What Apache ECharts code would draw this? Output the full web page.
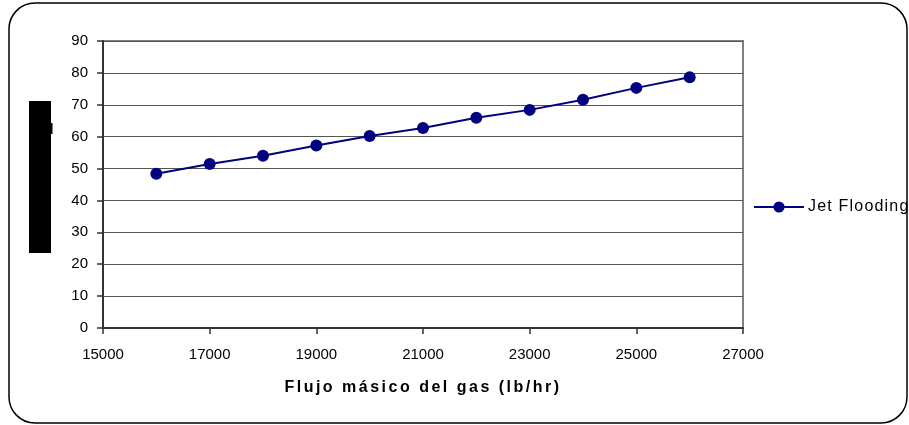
<!DOCTYPE html>
<html>
<head>
<meta charset="utf-8">
<script src="https://cdn.jsdelivr.net/npm/echarts@6/dist/echarts.min.js"></script>
<style>
  html, body { margin: 0; padding: 0; background: #ffffff; }
  #chart { width: 909px; height: 425px; }
</style>
</head>
<body>
<div id="chart"></div>
<script>
// Gas mass flow (lb/hr) against jet flooding (%)
const gasFlow = [16000, 17000, 18000, 19000, 20000, 21000, 22000, 23000, 24000, 25000, 26000];
const jetFlooding = [48.4, 51.4, 54.0, 57.2, 60.2, 62.7, 65.9, 68.4, 71.6, 75.3, 78.6];
const seriesName = 'Jet Flooding';
const xTitle = 'Flujo másico del gas (lb/hr)';

// Wide tracking for the bold axis title and the legend label
(function () {
  const proto = CanvasRenderingContext2D.prototype;
  const origFill = proto.fillText;
  proto.fillText = function (t, x, y, m) {
    const f = this.font || '';
    if ('letterSpacing' in this) {
      this.letterSpacing = f.indexOf('bold') >= 0 ? '2.5px' : (f.indexOf('16px') >= 0 ? '1.2px' : '0px');
    }
    return m === undefined ? origFill.call(this, t, x, y) : origFill.call(this, t, x, y, m);
  };
})();

const font = 'Liberation Sans, Arial, sans-serif';
const chart = echarts.init(document.getElementById('chart'), null, { renderer: 'canvas' });

chart.setOption({
  backgroundColor: '#ffffff',
  animation: false,
  textStyle: { fontFamily: font },
  grid: {
    left: 103, right: 166, top: 41, bottom: 97,
    show: true, borderColor: '#808080', borderWidth: 2, backgroundColor: '#ffffff'
  },
  legend: {
    data: [seriesName],
    left: 753, top: 199, padding: 0,
    itemWidth: 50, itemHeight: 14, itemGap: 4,
    textStyle: { fontFamily: font, fontSize: 16, color: '#000000', padding: [0, 0, 0, -1] }
  },
  xAxis: {
    type: 'value',
    min: 14000 + 1000, max: 27000, interval: 2000,
    name: xTitle,
    nameLocation: 'middle',
    nameGap: 52,
    nameTextStyle: { fontFamily: font, fontSize: 16, fontWeight: 'bold', color: '#000000' },
    axisLine: { show: true, lineStyle: { color: '#333333', width: 2 } },
    axisTick: { show: true, inside: false, length: 6, lineStyle: { color: '#333333', width: 1.5 } },
    axisLabel: { fontFamily: font, fontSize: 15, color: '#000000', margin: 19, formatter: v => String(v) },
    splitLine: { show: false }
  },
  yAxis: {
    type: 'value',
    min: 0, max: 90, interval: 10,
    axisLine: { show: true, lineStyle: { color: '#333333', width: 2 } },
    axisTick: { show: true, inside: false, length: 6, lineStyle: { color: '#333333', width: 1.5 } },
    axisLabel: { fontFamily: font, fontSize: 15, color: '#000000', margin: 15 },
    splitLine: { show: true, lineStyle: { color: '#555555', width: 1.2 } }
  },
  series: [{
    name: seriesName,
    type: 'line',
    data: gasFlow.map((x, i) => [x, jetFlooding[i]]),
    symbol: 'circle',
    symbolSize: 12,
    lineStyle: { color: '#000080', width: 2 },
    itemStyle: { color: '#000080' },
    z: 5
  }],
  graphic: [
    {
      type: 'rect',
      shape: { x: 9, y: 3, width: 898, height: 420, r: 26 },
      style: { fill: 'none', stroke: '#000000', lineWidth: 1.5 },
      silent: true, z: 100
    },
    {
      type: 'rect',
      shape: { x: 29, y: 101, width: 22, height: 152 },
      style: { fill: '#000000' },
      silent: true, z: 100
    },
    {
      type: 'rect',
      shape: { x: 51, y: 123, width: 1.5, height: 11 },
      style: { fill: '#000000' },
      silent: true, z: 100
    }
  ]
});
</script>
</body>
</html>
